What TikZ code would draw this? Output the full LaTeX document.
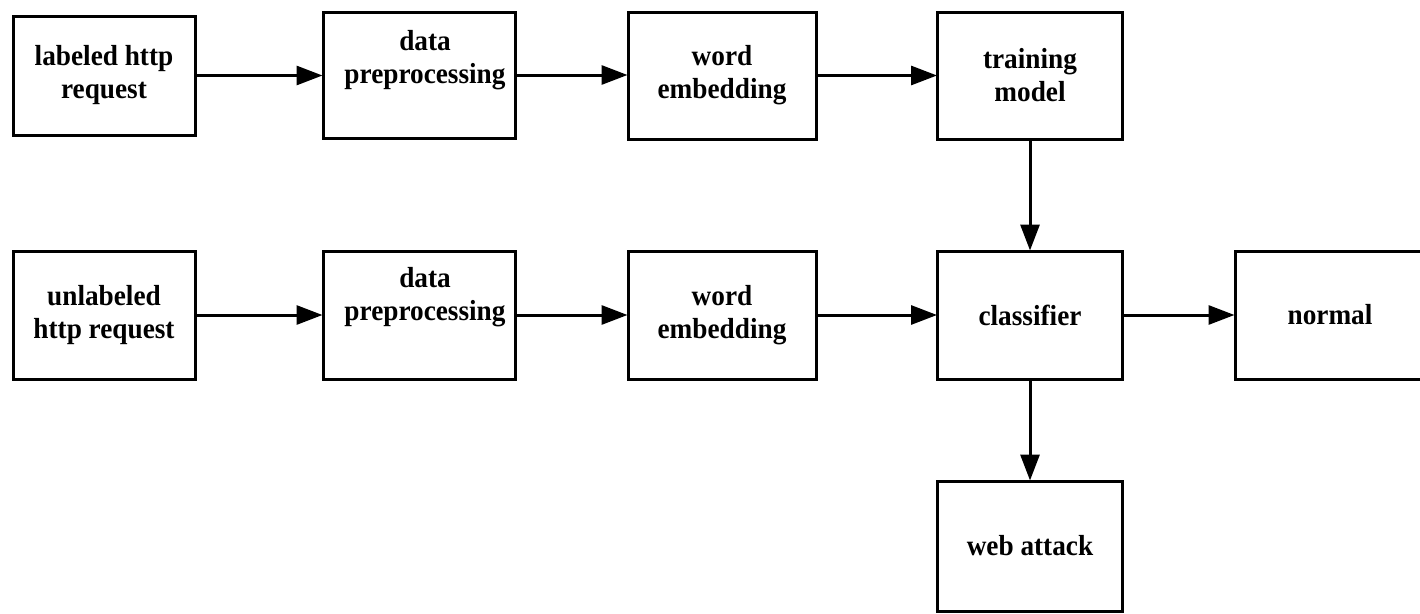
\documentclass[tikz,border=0pt]{standalone}
\usepackage{fontspec}
\setmainfont{Liberation Serif}[FakeStretch=0.94]
\usetikzlibrary{arrows.meta}
\tikzset{
  blk/.style={draw=black, line width=3pt, fill=white, inner sep=0pt, align=center,
    font=\bfseries\fontsize{29}{33}\selectfont},
  flow/.style={line width=3pt, -{Triangle[length=26pt,width=19pt]}, shorten >=-1pt},
  txt/.style={align=center, font=\bfseries\fontsize{29}{33}\selectfont, inner sep=0pt}
}
\begin{document}
\begin{tikzpicture}[x=1pt,y=-1pt]
\useasboundingbox (0,0) rectangle (1420,613);
% row 1
\node[blk, minimum width=182pt, minimum height=119pt] (lab) at (104,75.5) {labeled http\\request};
\node[blk, minimum width=192pt, minimum height=126pt] (dp1) at (419,75) {};
\node[txt] (dp1t) at (425,60) {data\\preprocessing};
\node[blk, minimum width=188pt, minimum height=127pt] (we1) at (722,75.5) {word\\embedding};
\node[blk, minimum width=185pt, minimum height=127pt] (tm) at (1030,75.5) {training\\model};
% row 2
\node[blk, minimum width=182pt, minimum height=128pt] (unl) at (104,315) {unlabeled\\http request};
\node[blk, minimum width=192pt, minimum height=128pt] (dp2) at (419,315) {};
\node[txt] (dp2t) at (425,297) {data\\preprocessing};
\node[blk, minimum width=188pt, minimum height=128pt] (we2) at (722,315) {word\\embedding};
\node[blk, minimum width=185pt, minimum height=128pt] (cls) at (1030,315) {classifier};
\node[blk, minimum width=190pt, minimum height=128pt, text width=185pt] (nor) at (1330,315) {normal};
% row 3
\node[blk, minimum width=185pt, minimum height=130pt] (web) at (1030,546) {web attack};
% connectors
\draw[flow] (lab.east) -- (lab.east -| dp1.west);
\draw[flow] (dp1.east) -- (dp1.east -| we1.west);
\draw[flow] (we1.east) -- (we1.east -| tm.west);
\draw[flow] (tm.south) -- (cls.north);
\draw[flow] (unl.east) -- (unl.east -| dp2.west);
\draw[flow] (dp2.east) -- (dp2.east -| we2.west);
\draw[flow] (we2.east) -- (cls.west);
\draw[flow] (cls.east) -- (nor.west);
\draw[flow] (cls.south) -- (web.north);
\end{tikzpicture}
\end{document}
